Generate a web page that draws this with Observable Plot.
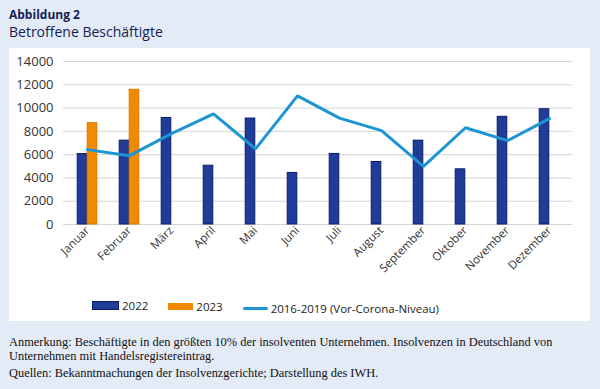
<!DOCTYPE html>
<html><head><meta charset="utf-8">
<script src="https://cdn.jsdelivr.net/npm/d3@7"></script>
<script src="https://cdn.jsdelivr.net/npm/@observablehq/plot@0.6"></script>
<style>
body{margin:0;width:600px;height:389px;background:#e3ebf7;position:relative;overflow:hidden;font-family:"Open Sans",sans-serif;}
#t1{position:absolute;left:9px;top:8px;font-size:12px;line-height:14px;font-weight:bold;color:#161c55;}
#t2{position:absolute;left:9px;top:23px;font-size:14px;line-height:17px;color:#161c55;}
#panel{position:absolute;left:9px;top:48px;width:581px;height:273px;background:#fff;}
#chart{position:absolute;left:0;top:48px;}
#legend{position:absolute;left:92px;top:298px;font-size:11.5px;color:#222;white-space:nowrap;}
#legend span.item{display:inline-flex;align-items:center;margin-right:20px;}
#legend i{display:inline-block;width:25px;margin-right:3px;}
#cap{position:absolute;left:9px;top:335px;width:580px;font-family:"Liberation Serif",serif;font-size:12.4px;line-height:14px;color:#111;}
#cap p{margin:0 0 3px 0;}
</style></head>
<body>
<div id="t1">Abbildung 2</div>
<div id="t2">Betroffene Beschäftigte</div>
<div id="panel"></div>
<div id="chart"></div>
<div id="legend"></div>
<div id="cap"><p>Anmerkung: Beschäftigte in den größten 10% der insolventen Unternehmen. Insolvenzen in Deutschland von Unternehmen mit Handelsregistereintrag.</p><p>Quellen: Bekanntmachungen der Insolvenzgerichte; Darstellung des IWH.</p></div>
<script>
const months = ["Januar","Februar","März","April","Mai","Juni","Juli","August","September","Oktober","November","Dezember"];
const values2022 = [6050, 7200, 9150, 5050, 9100, 4430, 6060, 5370, 7200, 4740, 9250, 9900];
const months2023 = ["Januar","Februar"];
const values2023 = [8700, 11570];
const preCorona = [6430, 5910, 7800, 9500, 6500, 11050, 9140, 8060, 5000, 8310, 7200, 9090];
const yTicks = [0, 2000, 4000, 6000, 8000, 10000, 12000, 14000];
const seriesNames = ["2022", "2023", "2016-2019 (Vor-Corona-Niveau)"];
const colors = ["#1f3c98", "#f08a00", "#1b95d3"];

const W = 600, H = 245, mL = 63, mR = 28, mT = 13, mB = 69;
const bw = (W - mL - mR) / months.length;
const barW = 10;
const inset = (bw - barW) / 2;

const d2022 = months.map((m, i) => ({month: m, value: values2022[i]}));
const d2023 = months2023.map((m, i) => ({month: m, value: values2023[i]}));
const dLine = months.map((m, i) => ({month: m, value: preCorona[i]}));

const chart = Plot.plot({
  width: W, height: H,
  marginLeft: mL, marginRight: mR, marginTop: mT, marginBottom: mB,
  style: {fontFamily: "'Open Sans', sans-serif", fontSize: "11.5px", color: "#333", background: "transparent"},
  x: {type: "band", domain: months, padding: 0},
  y: {domain: [0, 14000]},
  marks: [
    Plot.ruleY(yTicks, {stroke: "#d6d6d6", strokeWidth: 1}),
    Plot.axisY(yTicks, {tickSize: 0, tickPadding: 10, tickFormat: d => String(d), fontSize: 13, label: null}),
    Plot.axisX({tickSize: 0, tickPadding: 4, tickRotate: -45, fontSize: 11.5, label: null}),
    Plot.barY(d2022, {x: "month", y: "value", fill: colors[0], stroke: "#0c1a6a", strokeWidth: 1, insetLeft: inset, insetRight: inset, dx: -barW / 2}),
    Plot.barY(d2023, {x: "month", y: "value", fill: colors[1], stroke: "#d97a00", strokeWidth: 1, insetLeft: inset, insetRight: inset, dx: barW / 2}),
    Plot.line(dLine, {x: "month", y: "value", stroke: colors[2], strokeWidth: 3, strokeLinejoin: "miter"})
  ]
});
document.getElementById("chart").appendChild(chart);

const lg = document.getElementById("legend");
seriesNames.forEach((n, i) => {
  const s = document.createElement("span");
  s.className = "item";
  const sw = document.createElement("i");
  sw.style.height = i < 2 ? "7px" : "3px";
  sw.style.background = colors[i];
  if (i === 0) sw.style.border = "1px solid #0c1a6a";
  if (i === 2) sw.style.borderRadius = "2px";
  s.appendChild(sw);
  s.appendChild(document.createTextNode(n));
  lg.appendChild(s);
});
</script>
</body></html>
